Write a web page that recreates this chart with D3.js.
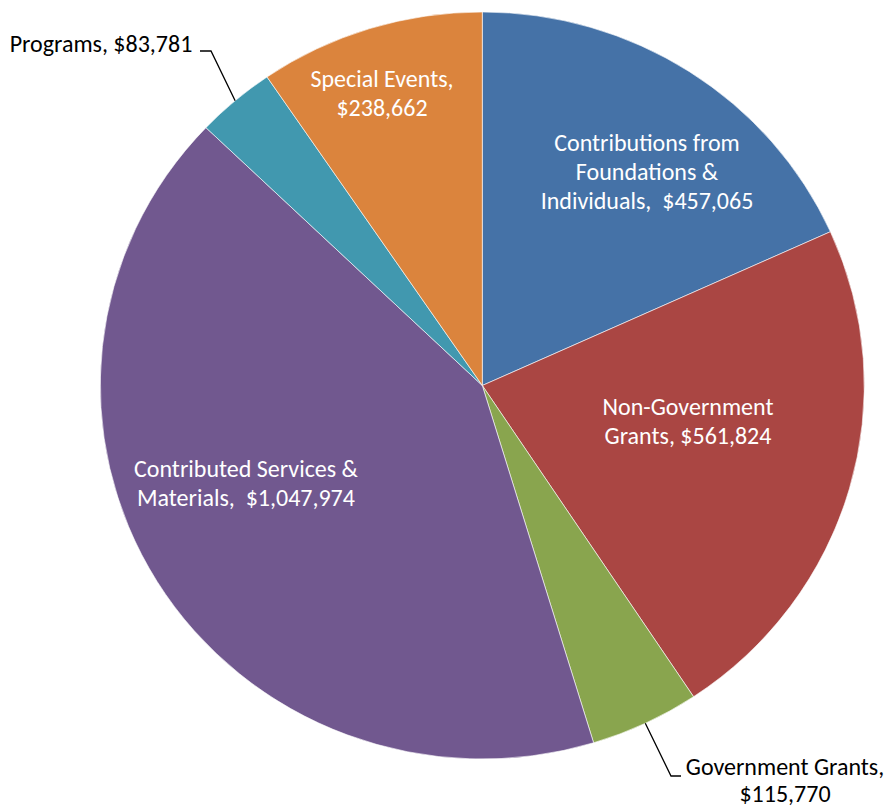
<!DOCTYPE html>
<html lang="en">
  <head>
    <meta charset="utf-8">
    <title>Revenue pie</title>
    <script src="https://d3js.org/d3.v7.min.js"></script>
    <style>
      body { margin: 0; background: #fff; }
      text { font-family: Carlito, Lato, sans-serif; white-space: pre; }
    </style>
  </head>
  <body>
    <div id="container"></div>
    <script>
      // slices, clockwise from 12 o'clock
      const categories = ['Contributions from Foundations & Individuals', 'Non-Government Grants',
        'Government Grants', 'Contributed Services & Materials', 'Programs', 'Special Events']
      const values = [457065, 561824, 115770, 1047974, 83781, 238662]
      const labelLines = [
        ['Contributions from', 'Foundations &', 'Individuals,  $457,065'],
        ['Non-Government', 'Grants, $561,824'],
        ['Government Grants,', '$115,770'],
        ['Contributed Services &', 'Materials,  $1,047,974'],
        ['Programs, $83,781'],
        ['Special Events,', '$238,662']
      ]
      const colors = ['#4572A7', '#AA4643', '#89A54E', '#71588F', '#4198AF', '#DB843D']

      const W = 890, H = 807
      const cx = 482.3, cy = 385.5, rx = 382, ry = 373.5
      const fontSize = 24, lineH = 29

      // where each label sits (centre x, first baseline, line gap) and whether it is outside
      const labelLayout = [
        { x: 647, y: 151, gap: lineH, inside: true },
        { x: 688, y: 415, gap: lineH, inside: true },
        { x: 785, y: 775, gap: 26.5, inside: false, elbow: [671, 776], end: [681, 776] },
        { x: 246, y: 477, gap: lineH, inside: true },
        { x: 101, y: 52, gap: lineH, inside: false, elbow: [211, 51], end: [200, 51] },
        { x: 382, y: 87, gap: lineH, inside: true }
      ]

      let svg = d3.select('#container').append('svg')
        .attr('width', W)
        .attr('height', H)

      let pie = d3.pie().sort(null).value(d => d)
      let arcs = pie(values)
      let arc = d3.arc().innerRadius(0).outerRadius(ry)

      // the picture is a little wider than tall, so stretch the circle
      let g = svg.append('g')
        .attr('transform', `translate(${cx},${cy}) scale(${rx / ry},1)`)

      g.selectAll('path')
        .data(arcs).enter()
        .append('path')
        .attr('d', arc)
        .attr('fill', (d, i) => colors[i])
        .attr('stroke', '#fff')
        .attr('stroke-width', 0.6)
        .attr('vector-effect', 'non-scaling-stroke')

      // leader lines for the outside labels
      arcs.forEach((d, i) => {
        let L = labelLayout[i]
        if (L.inside) return
        let a = (d.startAngle + d.endAngle) / 2
        let p0 = [cx + rx * Math.sin(a), cy - ry * Math.cos(a)]
        svg.append('polyline')
          .attr('points', [p0, L.elbow, L.end].map(p => p.join(',')).join(' '))
          .attr('fill', 'none')
          .attr('stroke', '#000')
          .attr('stroke-width', 1.3)
      })

      // labels
      labelLines.forEach((lines, i) => {
        let L = labelLayout[i]
        let t = svg.append('text')
          .attr('text-anchor', 'middle')
          .attr('font-size', fontSize)
          .attr('fill', L.inside ? '#fff' : '#000')
        lines.forEach((s, j) => {
          t.append('tspan')
            .attr('x', L.x)
            .attr('y', L.y + j * L.gap)
            .text(s)
        })
      })
    </script>
  </body>
</html>
